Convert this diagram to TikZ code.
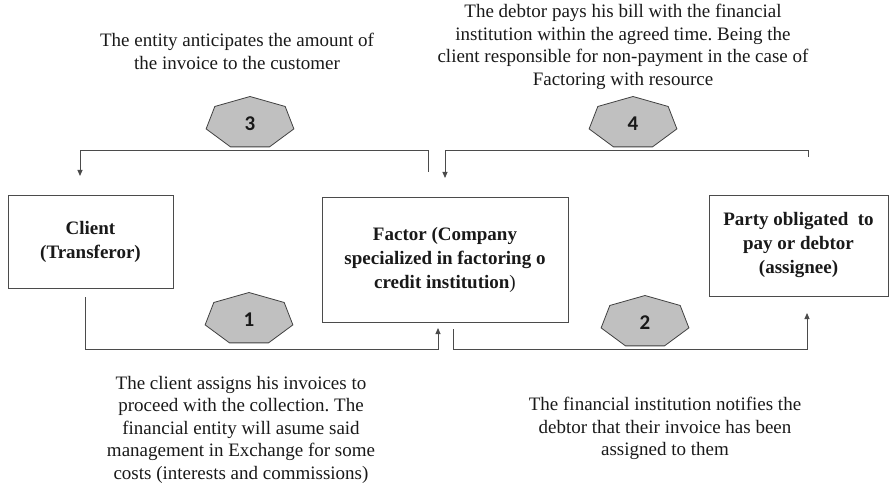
\documentclass[tikz,border=0pt]{standalone}
\usepackage{fontspec}
\setmainfont{Liberation Serif}
\newfontfamily\numfont{Carlito}
\usetikzlibrary{arrows.meta,calc}
\definecolor{linegray}{RGB}{75,75,75}
\definecolor{hepfill}{RGB}{192,192,192}
\definecolor{hepdraw}{RGB}{65,65,65}
\definecolor{txt}{RGB}{25,25,25}
\tikzset{
  box/.style={draw=linegray, line width=0.9pt, inner sep=0pt, text=txt,
    font=\fontsize{19}{24}\selectfont\bfseries, align=center},
  desc/.style={text=txt, font=\fontsize{19}{22.5}\selectfont, align=center, inner sep=0pt},
  conn/.style={draw=linegray, line width=0.9pt},
  tip/.style={-{Triangle[length=6pt,width=5pt]}},
  hep/.style={fill=hepfill, draw=hepdraw, line width=0.8pt},
  hepnum/.style={font=\numfont\fontsize{21}{21}\selectfont\bfseries, text=txt, inner sep=0pt}
}
\newcommand{\heptagon}[3]{%
  \draw[hep] ($(#1,#2)+(-90:45 and 26.5)$)
    \foreach \k in {1,...,6} { -- ($(#1,#2)+({-90+\k*360/7}:45 and 26.5)$) } -- cycle;
  \node[hepnum] (h#3) at (#1,#2+1) {#3};
}
\frenchspacing
\begin{document}
\begin{tikzpicture}[x=1pt,y=-1pt]
\useasboundingbox (0,0) rectangle (889,489);
% boxes
\node[box, minimum width=165pt, minimum height=93pt] (client) at (90.5,241.5)
  {Client\\(Transferor)};
\node[box, minimum width=246pt, minimum height=125pt] (factor) at (445,259.5)
  {Factor (Company\\specialized in factoring o\\credit institution\textmd{)}};
\node[box, minimum width=179pt, minimum height=101pt] (party) at (798.5,245.5)
  {Party obligated\ \ to\\pay or debtor\\(assignee)};
% connector end points
\coordinate (a3s) at (428,172);
\coordinate (a3e) at (80,176);
\coordinate (a4s) at (808,157);
\coordinate (a4e) at (445,178);
\coordinate (a1s) at (85,297);
\coordinate (a1e) at (438,328);
\coordinate (a2s) at (453,329);
\coordinate (a2e) at (807,313);
% connectors
\draw[conn, tip] (a3s) |- (80,150) -- (a3e);
\draw[conn, tip] (a4s) |- (445,150) -- (a4e);
\draw[conn, tip] (a1s) |- (438,349) -- (a1e);
\draw[conn, tip] (a2s) |- (807,349) -- (a2e);
% heptagons
\heptagon{250}{123}{3}
\heptagon{633}{123}{4}
\heptagon{249}{319}{1}
\heptagon{645}{322}{2}
% descriptions
\node[desc, anchor=north] (d3) at (237,33)
  {The entity anticipates the amount of\\the invoice to the customer};
\node[desc, anchor=north] (d4) at (623,4)
  {The debtor pays his bill with the financial\\institution within the agreed time. Being the\\client responsible for non-payment in the case of\\Factoring with resource};
\node[desc, anchor=north] (d1) at (241,376)
  {The client assigns his invoices to\\proceed with the collection. The\\financial entity will asume said\\management in Exchange for some\\costs (interests and commissions)};
\node[desc, anchor=north] (d2) at (665,397)
  {The financial institution notifies the\\debtor that their invoice has been\\assigned to them};
\end{tikzpicture}
\end{document}
